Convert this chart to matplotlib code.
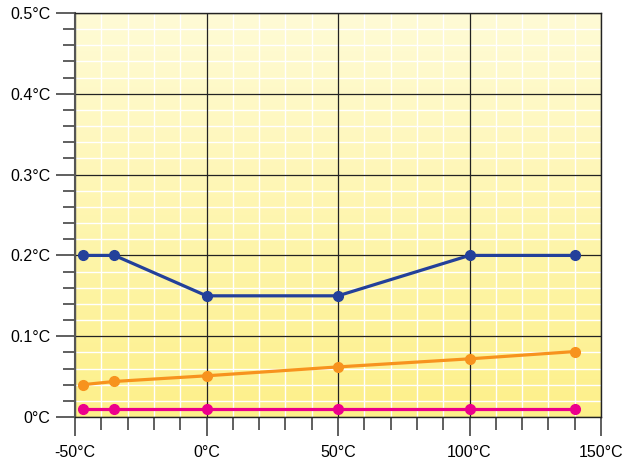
import numpy as np
import matplotlib.pyplot as plt
from matplotlib.colors import LinearSegmentedColormap
from matplotlib.ticker import MultipleLocator, FuncFormatter

plt.rcParams['font.family'] = ['Liberation Sans', 'DejaVu Sans']

# Data
temps = [-47, -35, 0, 50, 100, 140]
blue_vals = [0.20, 0.20, 0.15, 0.15, 0.20, 0.20]
orange_vals = [0.040, 0.044, 0.051, 0.062, 0.072, 0.081]
pink_vals = [0.010, 0.010, 0.010, 0.010, 0.010, 0.010]

fig = plt.figure(figsize=(6.23, 4.65), dpi=100)
ax = fig.add_axes([0.1204, 0.1032, 0.8443, 0.8688])

# yellow gradient background
cmap = LinearSegmentedColormap.from_list('bg', ['#fdf08a', '#fffbd6'])
grad = np.linspace(0, 1, 256).reshape(-1, 1)
ax.imshow(grad, cmap=cmap, origin='lower', aspect='auto',
          extent=[-50, 150, 0, 0.5], zorder=0)

ax.set_xlim(-50, 150)
ax.set_ylim(0, 0.5)
ax.xaxis.set_major_locator(MultipleLocator(50))
ax.xaxis.set_minor_locator(MultipleLocator(10))
ax.yaxis.set_major_locator(MultipleLocator(0.1))
ax.yaxis.set_minor_locator(MultipleLocator(0.02))
ax.xaxis.set_major_formatter(FuncFormatter(lambda v, p: f"{v:.0f}°C"))
ax.yaxis.set_major_formatter(FuncFormatter(lambda v, p: "0°C" if v == 0 else f"{v:.1f}°C"))

# white fine grid under the dark major grid
for v in ax.xaxis.get_minorticklocs():
    ax.axvline(v, color='white', lw=1.0, zorder=1)
for v in ax.yaxis.get_minorticklocs():
    ax.axhline(v, color='white', lw=1.0, zorder=1)
for v in ax.xaxis.get_majorticklocs():
    ax.axvline(v, color='#222222', lw=0.9, zorder=2)
for v in ax.yaxis.get_majorticklocs():
    ax.axhline(v, color='#222222', lw=0.9, zorder=2)

ax.tick_params(axis='x', which='major', pad=6)
ax.tick_params(which='major', length=14, width=1.2, color='#444444', labelsize=11.5)
ax.tick_params(which='minor', length=9, width=1.2, color='#444444')
for s in ax.spines.values():
    s.set_color('#222222')
    s.set_linewidth(1)
ax.spines['left'].set_color('#555555')
ax.spines['left'].set_linewidth(1.5)

ax.plot(temps, blue_vals, color='#23409a', lw=2.3, marker='o', ms=7, zorder=3)
ax.plot(temps, orange_vals, color='#f7931e', lw=2.3, marker='o', ms=7, zorder=3)
ax.plot(temps, pink_vals, color='#ec008c', lw=2.3, marker='o', ms=7, zorder=3)

plt.savefig('out.png', dpi=100)
plt.close()
